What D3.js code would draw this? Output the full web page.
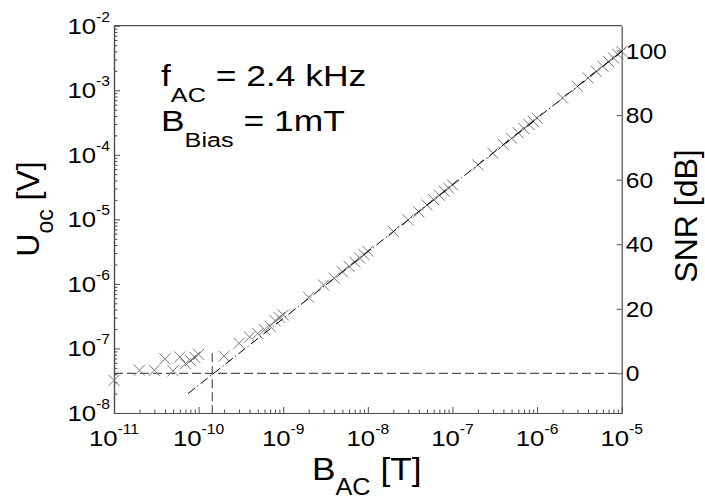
<!DOCTYPE html>
<html><head><meta charset="utf-8">
<script src="https://cdn.jsdelivr.net/npm/d3@7"></script>
<style>
body{margin:0;background:#fff;}
svg{display:block;}
text{font-family:"Liberation Sans",Arial,Helvetica,sans-serif;fill:#000;}
</style>
</head><body>
<svg id="c" width="705" height="499"></svg>
<script>
// ---- data ----
const bField = [
  1e-11,2e-11,3e-11,4e-11,5e-11,6e-11,7e-11,8e-11,9e-11,
  1e-10,2e-10,3e-10,4e-10,5e-10,6e-10,7e-10,8e-10,9e-10,
  1e-9,2e-9,3e-9,4e-9,5e-9,6e-9,7e-9,8e-9,9e-9,
  1e-8,2e-8,3e-8,4e-8,5e-8,6e-8,7e-8,8e-8,9e-8,
  1e-7,2e-7,3e-7,4e-7,5e-7,6e-7,7e-7,8e-7,9e-7,
  1e-6,2e-6,3e-6,4e-6,5e-6,6e-6,7e-6,8e-6,9e-6,
  1e-5];
const uoc = [
  3.2e-8,4.6e-8,4.6e-8,6.9e-8,4.5e-8,7.4e-8,5.8e-8,6.5e-8,7.3e-8,
  8.1e-8,7.6e-8,1.2e-7,1.5e-7,1.7e-7,1.95e-7,2.2e-7,2.7e-7,3.0e-7,
  3.3e-7,6.2e-7,9.6e-7,1.23e-6,1.54e-6,1.87e-6,2.18e-6,2.52e-6,2.84e-6,
  3.2e-6,6.5e-6,9.8e-6,1.31e-5,1.67e-5,2.02e-5,2.36e-5,2.73e-5,3.05e-5,
  3.43e-5,7.0e-5,1.06e-4,1.44e-4,1.8e-4,2.19e-4,2.55e-4,2.95e-4,3.3e-4,
  3.7e-4,7.6e-4,1.15e-3,1.55e-3,1.96e-3,2.35e-3,2.78e-3,3.17e-3,3.6e-3,
  4.0e-3];
const fitB = [7.5e-11, 1.1e-5];
const fitU = [2.0e-8, 4.4e-3];
const noiseLevel = 4.12e-8;          // 0 dB SNR
const crossB = 1.45e-10;             // detection limit
const crossTopU = 8.4e-8;
const xTickExps = [-11,-10,-9,-8,-7,-6,-5];
const yTickExps = [-8,-7,-6,-5,-4,-3,-2];
const snrTicks = [0,20,40,60,80,100];

// ---- layout ----
const W = 705, H = 499;
const m = {top:25.7, right:83.3, bottom:86, left:114};
const svg = d3.select("#c");
const axisCol = "#4d4d4d";

const x = d3.scaleLog().domain([1e-11,1e-5]).range([m.left, W-m.right]);
const y = d3.scaleLog().domain([1e-8,1e-2]).range([H-m.bottom, m.top]);
const snr = u => 20*Math.log10(u/noiseLevel);
const yR = d3.scaleLinear().domain([snr(1e-8), snr(1e-2)]).range([H-m.bottom, m.top]);

const decades = (lo,hi)=>{const a=[];for(let e=lo;e<hi;e++)for(let k=2;k<=9;k++)a.push(k*Math.pow(10,e));return a;};
const xMinor = decades(-11,-5), yMinor = decades(-8,-2);

function styleAxis(g){
  g.select(".domain").attr("stroke",axisCol).attr("stroke-width",1.2);
  g.selectAll(".tick line").attr("stroke",axisCol).attr("stroke-width",1);
  g.selectAll(".tick text").remove();
}
// bottom axis
svg.append("g").attr("transform",`translate(0,${H-m.bottom})`)
  .call(d3.axisBottom(x).tickValues(xMinor).tickSizeInner(-3.5).tickSizeOuter(0).tickFormat(""))
  .call(styleAxis);
svg.append("g").attr("transform",`translate(0,${H-m.bottom})`)
  .call(d3.axisBottom(x).tickValues(xTickExps.map(e=>Math.pow(10,e))).tickSizeInner(-6).tickSizeOuter(0).tickFormat(""))
  .call(styleAxis);
// left axis
svg.append("g").attr("transform",`translate(${m.left},0)`)
  .call(d3.axisLeft(y).tickValues(yMinor).tickSizeInner(-3.5).tickSizeOuter(0).tickFormat(""))
  .call(styleAxis);
svg.append("g").attr("transform",`translate(${m.left},0)`)
  .call(d3.axisLeft(y).tickValues(yTickExps.map(e=>Math.pow(10,e))).tickSizeInner(-6).tickSizeOuter(0).tickFormat(""))
  .call(styleAxis);
// right axis
svg.append("g").attr("transform",`translate(${W-m.right},0)`)
  .call(d3.axisRight(yR).tickValues(snrTicks).tickSizeInner(-5).tickSizeOuter(0).tickFormat(""))
  .call(styleAxis);
// top border
svg.append("line").attr("x1",m.left).attr("x2",W-m.right).attr("y1",m.top).attr("y2",m.top)
  .attr("stroke",axisCol).attr("stroke-width",1.2);

// tick labels
const sx = 1.12;
function powLabel(px, py, exp, anchor){
  const g = svg.append("g").attr("transform",`translate(${px},${py}) scale(${sx},1)`);
  const t = g.append("text").attr("text-anchor",anchor);
  t.append("tspan").attr("font-size",23).text("10");
  t.append("tspan").attr("font-size",14).attr("dy",-12).text(exp);
}
xTickExps.forEach(e=>powLabel(x(Math.pow(10,e)), H-m.bottom+33, String(e), "middle"));
yTickExps.forEach(e=>powLabel(m.left-4, y(Math.pow(10,e))+8, String(e), "end"));
snrTicks.forEach(v=>{
  svg.append("g").attr("transform",`translate(${W-m.right+4},${yR(v)+8}) scale(${sx},1)`)
    .append("text").attr("font-size",22).text(v);
});

// reference lines
svg.append("line").attr("x1",m.left).attr("x2",W-m.right)
  .attr("y1",y(noiseLevel)).attr("y2",y(noiseLevel))
  .attr("stroke","#555").attr("stroke-width",1.2).attr("stroke-dasharray","9,4");
svg.append("line").attr("x1",x(crossB)).attr("x2",x(crossB))
  .attr("y1",y(crossTopU)).attr("y2",H-m.bottom)
  .attr("stroke","#555").attr("stroke-width",1.2).attr("stroke-dasharray","9,4");

// markers
const pts = bField.map((b,i)=>({b, u:uoc[i]}));
svg.append("g").selectAll("path").data(pts).join("path")
  .attr("transform",d=>`translate(${x(d.b)},${y(d.u)})`)
  .attr("d","M-5.5,-5.5L5.5,5.5M-5.5,5.5L5.5,-5.5")
  .attr("stroke","#777").attr("stroke-width",1).attr("fill","none");

// fit line
svg.append("path").datum(fitB.map((b,i)=>({b,u:fitU[i]})))
  .attr("d", d3.line().x(d=>x(d.b)).y(d=>y(d.u)))
  .attr("stroke","#000").attr("stroke-width",1).attr("fill","none")
  .attr("stroke-dasharray","9,3,1,3");

// annotation
function subText(px, py, main, sub, rest, fs, sfs, sdy, scale){
  const g = svg.append("g").attr("transform",`translate(${px},${py}) scale(${scale},1)`);
  const t = g.append("text");
  t.append("tspan").attr("font-size",fs).text(main);
  t.append("tspan").attr("font-size",sfs).attr("dy",sdy).text(sub);
  t.append("tspan").attr("font-size",fs).attr("dy",-sdy).text(rest);
  return t;
}
subText(161, 86, "f", "AC", " = 2.4 kHz", 29.5, 21, 16, 1.2);
subText(161, 131, "B", "Bias", " = 1mT", 29.5, 21, 16, 1.2);

// axis titles
subText(312, 480, "B", "AC", " [T]", 32, 23, 15, 1.1);
{
  const g = svg.append("g").attr("transform",`translate(39,${209}) rotate(-90)`);
  const t = g.append("text").attr("text-anchor","middle");
  t.append("tspan").attr("font-size",32).text("U");
  t.append("tspan").attr("font-size",23).attr("dy",14).text("oc");
  t.append("tspan").attr("font-size",32).attr("dy",-14).text(" [V]");
}
svg.append("g").attr("transform",`translate(697,216) rotate(-90)`)
  .append("text").attr("text-anchor","middle").attr("font-size",32).text("SNR [dB]");
</script>
</body></html>
